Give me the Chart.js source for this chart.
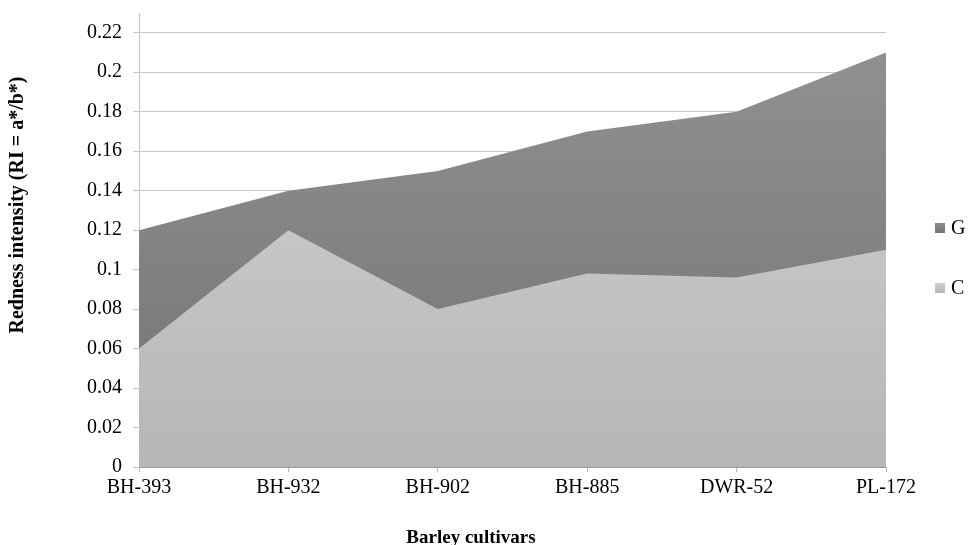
<!DOCTYPE html>
<html>
<head>
<meta charset="utf-8">
<script src="https://cdn.jsdelivr.net/npm/chart.js@4.4.1/dist/chart.umd.min.js"></script>
<style>
  html, body { margin: 0; padding: 0; background: #ffffff; }
  #wrap { width: 969px; height: 545px; position: relative; }
</style>
</head>
<body>
<div id="wrap"><canvas id="chart" width="969" height="545"></canvas></div>
<script>
// Barley cultivars on the category axis
const cultivars = ['BH-393', 'BH-932', 'BH-902', 'BH-885', 'DWR-52', 'PL-172'];
// Redness intensity per series
const seriesG = [0.12, 0.14, 0.15, 0.17, 0.18, 0.21];
const seriesC = [0.06, 0.12, 0.08, 0.098, 0.096, 0.11];
// Value axis range and labelled ticks
const yMin = 0;
const yMax = 0.23;
const yTicks = [0, 0.02, 0.04, 0.06, 0.08, 0.1, 0.12, 0.14, 0.16, 0.18, 0.2, 0.22];

const FONT = '"Liberation Serif", "Times New Roman", serif';

function vGradient(ctx, top, bottom) {
  const chart = ctx.chart;
  const area = chart.chartArea;
  if (!area) return top;
  const g = chart.ctx.createLinearGradient(0, area.top, 0, area.bottom);
  g.addColorStop(0, top);
  g.addColorStop(1, bottom);
  return g;
}

// Axis titles and legend drawn on the canvas
const decorations = {
  id: 'decorations',
  afterDraw(chart) {
    const c = chart.ctx;
    c.save();
    c.fillStyle = '#000000';
    c.textAlign = 'center';
    c.textBaseline = 'middle';
    // value axis title
    c.font = 'bold 20px ' + FONT;
    c.save();
    c.translate(18, 205);
    c.rotate(-Math.PI / 2);
    c.fillText('Redness intensity (RI = a*/b*)', 0, 0);
    c.restore();
    // category axis title
    c.font = 'bold 19px ' + FONT;
    c.fillText('Barley cultivars', 471, 538);

    // legend
    const items = [
      { label: 'G', top: '#8a8a8a', bottom: '#737373', y: 228 },
      { label: 'C', top: '#cdcdcd', bottom: '#b9b9b9', y: 288 }
    ];
    c.font = '20px ' + FONT;
    c.textAlign = 'left';
    items.forEach(it => {
      const g = c.createLinearGradient(0, it.y - 5, 0, it.y + 5);
      g.addColorStop(0, it.top);
      g.addColorStop(1, it.bottom);
      c.fillStyle = g;
      c.fillRect(935, it.y - 5, 10, 10);
      c.fillStyle = '#000000';
      c.fillText(it.label, 951, it.y + 1);
    });
    c.restore();
  }
};

new Chart(document.getElementById('chart'), {
  type: 'line',
  data: {
    labels: cultivars,
    datasets: [
      {
        label: 'C',
        data: seriesC,
        fill: 'origin',
        borderWidth: 0,
        pointRadius: 0,
        tension: 0,
        backgroundColor: ctx => vGradient(ctx, '#d3d4d4', '#b6b6b6')
      },
      {
        label: 'G',
        data: seriesG,
        fill: 'origin',
        borderWidth: 0,
        pointRadius: 0,
        tension: 0,
        backgroundColor: ctx => vGradient(ctx, '#939393', '#737373')
      }
    ]
  },
  options: {
    responsive: false,
    animation: false,
    events: [],
    layout: { padding: { left: 0, right: 83, top: 13, bottom: 0 } },
    plugins: {
      legend: { display: false },
      tooltip: { enabled: false },
      title: { display: false }
    },
    scales: {
      x: {
        type: 'category',
        offset: false,
        grid: {
          drawOnChartArea: false,
          drawTicks: true,
          tickLength: 5,
          color: '#b5b5b5'
        },
        border: { display: true, color: '#9a9a9a', width: 1 },
        ticks: {
          color: '#000000',
          font: { family: FONT, size: 20 },
          padding: 4,
          maxRotation: 0,
          autoSkip: false
        },
        afterFit(scale) { scale.height = 78; }
      },
      y: {
        min: yMin,
        max: yMax,
        grid: {
          color: '#c8c8c8',
          lineWidth: 1,
          drawTicks: true,
          tickLength: 6
        },
        border: { display: true, color: '#c0c0c0', width: 1 },
        ticks: {
          color: '#000000',
          font: { family: FONT, size: 20 },
          padding: 11,
          callback: v => String(parseFloat(Number(v).toFixed(2)))
        },
        afterBuildTicks(scale) {
          scale.ticks = yTicks.map(v => ({ value: v }));
        },
        afterFit(scale) {
          scale.width = 139;
          scale.paddingTop = 0;
          scale.paddingBottom = 0;
        }
      }
    }
  },
  plugins: [decorations]
});
</script>
</body>
</html>
